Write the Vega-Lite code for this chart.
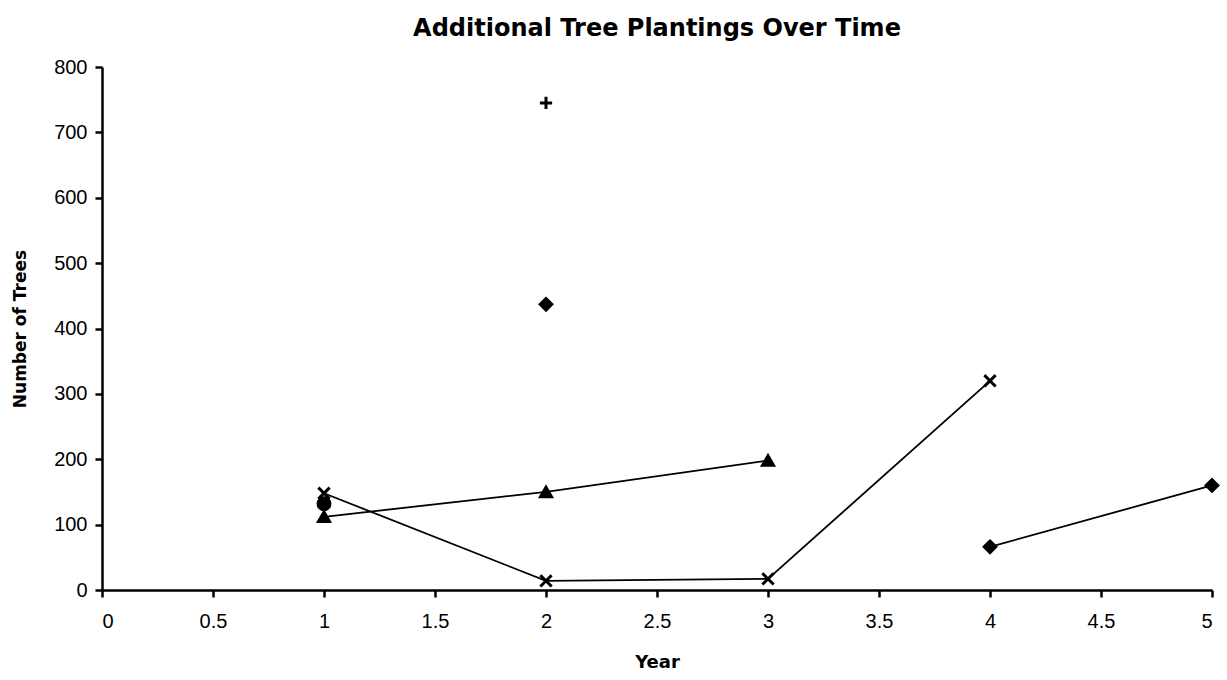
{
  "$schema": "https://vega.github.io/schema/vega-lite/v6.json",
  "width": 1110,
  "height": 523,
  "autosize": {"type": "none"},
  "padding": {"left": 102, "top": 67, "right": 15, "bottom": 90},
  "background": "white",
  "title": {"text": "Additional Tree Plantings Over Time", "font": "DejaVu Sans", "fontSize": 24, "fontWeight": "bold", "color": "black", "anchor": "middle", "offset": 16},
  "data": {"values": [
    {"series": "Triangle", "seg": "A", "year": 1, "trees": 112},
    {"series": "Triangle", "seg": "A", "year": 2, "trees": 150},
    {"series": "Triangle", "seg": "A", "year": 3, "trees": 198},
    {"series": "Cross", "seg": "B", "year": 1, "trees": 148},
    {"series": "Cross", "seg": "B", "year": 2, "trees": 14},
    {"series": "Cross", "seg": "B", "year": 3, "trees": 17},
    {"series": "Cross", "seg": "B", "year": 4, "trees": 320},
    {"series": "Diamond", "seg": "D1", "year": 2, "trees": 437},
    {"series": "Diamond", "seg": "D2", "year": 4, "trees": 66},
    {"series": "Diamond", "seg": "D2", "year": 5, "trees": 160},
    {"series": "Circle", "seg": "C", "year": 1, "trees": 132},
    {"series": "Plus", "seg": "P", "year": 2, "trees": 745}
  ]},
  "encoding": {
    "x": {"field": "year", "type": "quantitative", "scale": {"domain": [0, 5], "nice": false, "zero": false},
      "axis": {"title": "Year", "values": [0, 0.5, 1, 1.5, 2, 2.5, 3, 3.5, 4, 4.5, 5], "format": "~g", "grid": false,
        "domainColor": "black", "domainWidth": 2.5, "tickColor": "black", "tickWidth": 2.5, "tickSize": 7,
        "labelFont": "Liberation Sans", "labelFontSize": 20, "labelColor": "black", "labelPadding": 14,
        "titleFont": "DejaVu Sans", "titleFontSize": 18, "titleFontWeight": "bold", "titleColor": "black", "titlePadding": 22}},
    "y": {"field": "trees", "type": "quantitative", "scale": {"domain": [0, 800], "nice": false},
      "axis": {"title": "Number of Trees", "values": [0, 100, 200, 300, 400, 500, 600, 700, 800], "grid": false,
        "domainColor": "black", "domainWidth": 2.5, "tickColor": "black", "tickWidth": 2.5, "tickSize": 7,
        "labelFont": "Liberation Sans", "labelFontSize": 20, "labelColor": "black", "labelPadding": 8,
        "titleFont": "DejaVu Sans", "titleFontSize": 17, "titleFontWeight": "bold", "titleColor": "black", "titlePadding": 24}}
  },
  "layer": [
    {"mark": {"type": "line", "color": "black", "strokeWidth": 1.8},
     "encoding": {"detail": {"field": "seg"}}},
    {"mark": {"type": "point", "filled": true, "color": "black", "stroke": "black", "strokeWidth": 3, "opacity": 1},
     "encoding": {
       "shape": {"field": "series", "type": "nominal",
         "scale": {"domain": ["Triangle", "Cross", "Diamond", "Circle", "Plus"],
           "range": ["triangle-up", "M-1,-1L1,1M-1,1L1,-1", "diamond", "circle", "M-1,0L1,0M0,-1L0,1"]},
         "legend": null},
       "size": {"field": "series", "type": "nominal",
         "scale": {"domain": ["Triangle", "Cross", "Diamond", "Circle", "Plus"], "range": [120, 150, 140, 100, 200]},
         "legend": null}
     }}
  ],
  "config": {"view": {"stroke": null}}
}
